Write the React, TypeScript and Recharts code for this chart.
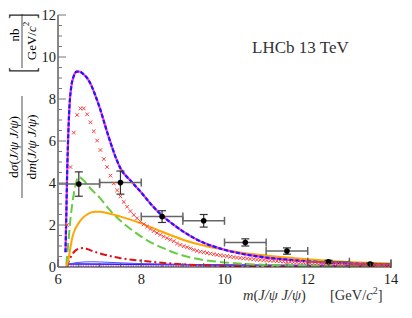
import {
  ComposedChart,
  Line,
  Area,
  Scatter,
  ErrorBar,
  XAxis,
  YAxis,
} from 'recharts';

// Axis ticks (every 0.5, labels on even values)
const xTicks = [6, 6.5, 7, 7.5, 8, 8.5, 9, 9.5, 10, 10.5, 11, 11.5, 12, 12.5, 13, 13.5, 14];
const yTicks = [0, 0.5, 1, 1.5, 2, 2.5, 3, 3.5, 4, 4.5, 5, 5.5, 6, 6.5, 7, 7.5, 8, 8.5, 9, 9.5, 10, 10.5, 11, 11.5, 12];

// Measured points (bin centres, values, errors)
const dataX = [6.5, 7.5, 8.5, 9.5, 10.5, 11.5, 12.5, 13.5];
const dataY = [3.95, 4.02, 2.4, 2.2, 1.17, 0.76, 0.25, 0.14];
const dataErrY = [0.58, 0.55, 0.28, 0.3, 0.17, 0.15, 0.07, 0.05];
const dataErrX = [0.5, 0.5, 0.5, 0.5, 0.5, 0.5, 0.5, 0.5];

// Total (blue dash-dot over magenta)
const totalX = [6.18, 6.2, 6.22, 6.25, 6.28, 6.32, 6.38, 6.45, 6.52, 6.6, 6.7, 6.8, 6.9, 7.0, 7.1, 7.2, 7.3, 7.4, 7.5, 7.75, 8.0, 8.25, 8.5, 8.75, 9.0, 9.25, 9.5, 9.75, 10, 10.5, 11, 11.5, 12, 12.5, 13, 13.5, 14];
const totalY = [0.7, 2.5, 4.5, 6.5, 7.8, 8.6, 9.1, 9.3, 9.3, 9.2, 9.0, 8.65, 8.15, 7.6, 6.95, 6.3, 5.7, 5.15, 4.7, 4.1, 3.55, 2.95, 2.45, 2.05, 1.7, 1.4, 1.15, 0.97, 0.82, 0.6, 0.45, 0.35, 0.27, 0.21, 0.17, 0.14, 0.12];

// Red crosses
const crossX = [6.22, 6.30, 6.38, 6.46, 6.54, 6.62, 6.70, 6.78, 6.86, 6.94, 7.02, 7.10, 7.18, 7.26, 7.34, 7.42, 7.50, 7.58, 7.66, 7.74, 7.82, 7.90, 7.98, 8.06, 8.14, 8.22, 8.30, 8.38, 8.46, 8.54, 8.62, 8.70, 8.78, 8.86, 8.94, 9.02, 9.10, 9.18, 9.26, 9.34, 9.42, 9.50, 9.58, 9.66, 9.74, 9.82, 9.90, 9.98, 10.06, 10.14, 10.22, 10.30, 10.38, 10.46, 10.54, 10.62, 10.70, 10.78, 10.86, 10.94, 11.02, 11.10, 11.18, 11.26, 11.34, 11.42, 11.50, 11.58, 11.66, 11.74, 11.82, 11.90, 11.98, 12.06, 12.14, 12.22, 12.30, 12.38, 12.46, 12.54, 12.62, 12.70, 12.78, 12.86, 12.94, 13.02, 13.10, 13.18, 13.26, 13.34, 13.42, 13.50, 13.58, 13.66, 13.74, 13.82, 13.90, 13.98];
const crossY = [2.0, 4.76, 6.4, 7.24, 7.55, 7.55, 7.27, 6.89, 6.46, 6.02, 5.57, 5.14, 4.76, 4.35, 3.98, 3.65, 3.36, 3.1, 2.87, 2.66, 2.48, 2.32, 2.17, 2.04, 1.92, 1.81, 1.71, 1.62, 1.53, 1.45, 1.37, 1.3, 1.23, 1.12, 1.05, 0.99, 0.94, 0.89, 0.82, 0.77, 0.73, 0.7, 0.67, 0.64, 0.61, 0.58, 0.56, 0.53, 0.51, 0.49, 0.47, 0.45, 0.43, 0.41, 0.4, 0.38, 0.37, 0.35, 0.34, 0.33, 0.31, 0.3, 0.29, 0.28, 0.27, 0.26, 0.25, 0.24, 0.23, 0.22, 0.21, 0.21, 0.2, 0.19, 0.18, 0.18, 0.17, 0.16, 0.16, 0.15, 0.15, 0.14, 0.14, 0.13, 0.13, 0.12, 0.12, 0.11, 0.11, 0.11, 0.1, 0.1, 0.1, 0.09, 0.09, 0.09, 0.08, 0.08];

// Green long dash
const greenX = [6.2, 6.25, 6.3, 6.35, 6.4, 6.5, 6.6, 6.8, 7.0, 7.25, 7.5, 7.75, 8.0, 8.25, 8.5, 9.0, 9.5, 10, 10.5, 11, 12, 13, 14];
const greenY = [0.1, 1.2, 2.3, 3.1, 3.7, 4.3, 4.15, 3.7, 3.3, 2.7, 2.2, 1.8, 1.45, 1.15, 0.92, 0.55, 0.33, 0.22, 0.15, 0.1, 0.05, 0.03, 0.02];

// Orange solid
const orangeX = [6.2, 6.25, 6.3, 6.35, 6.4, 6.5, 6.6, 6.7, 6.8, 6.9, 7.0, 7.2, 7.5, 8.0, 8.5, 9.0, 9.5, 10, 10.5, 11, 11.5, 12, 12.5, 13, 13.5, 14];
const orangeY = [0, 0.35, 0.95, 1.45, 1.75, 2.1, 2.35, 2.5, 2.6, 2.63, 2.63, 2.56, 2.4, 2.08, 1.68, 1.3, 1.02, 0.82, 0.66, 0.55, 0.45, 0.37, 0.3, 0.24, 0.2, 0.17];

// Red dash-dot
const redX = [6.2, 6.3, 6.4, 6.5, 6.6, 6.7, 6.8, 7.0, 7.25, 7.5, 8.0, 8.5, 9.0, 9.5, 10, 11, 12, 13, 14];
const redY = [0, 0.45, 0.75, 0.87, 0.9, 0.86, 0.78, 0.65, 0.52, 0.42, 0.3, 0.2, 0.13, 0.08, 0.05, 0.03, 0.02, 0.015, 0.01];

// Small blue components near zero
const blueLowX = [6.2, 6.3, 6.5, 6.8, 7.0, 7.5, 8, 9, 10, 12, 14];
const blueLowY = [0, 0.15, 0.22, 0.25, 0.24, 0.2, 0.16, 0.12, 0.09, 0.05, 0.03];
const baseX = [6.2, 6.25, 10, 14];
const baseY = [0, 0.14, 0.1, 0.06];
const hatchX = [6.2, 6.25, 8, 10.6];
const hatchY = [0, 0.15, 0.13, 0.11];

const zip = (xs: number[], ys: number[]) => xs.map((x, i) => ({ x, y: ys[i] }));

const points = dataX.map((x, i) => ({ x, y: dataY[i], ey: dataErrY[i], ex: dataErrX[i] }));

const FONT = '"Liberation Serif", "DejaVu Serif", serif';

const isMajor = (v: number) => Math.abs(v % 2) < 1e-6;

const BottomTick = (p: any) => {
  const v = Number(p.payload.value);
  const len = isMajor(v) ? 8 : 4;
  return (
    <g>
      <line x1={p.x} x2={p.x} y1={p.y} y2={p.y - len} stroke="#555" />
      {isMajor(v) && (
        <text x={p.x} y={p.y + 17} textAnchor="middle" fontSize={14.5} fontFamily={FONT} fill="#222">{v}</text>
      )}
    </g>
  );
};

const TopTick = (p: any) => {
  const v = Number(p.payload.value);
  const len = isMajor(v) ? 8 : 4;
  return <line x1={p.x} x2={p.x} y1={p.y} y2={p.y + len} stroke="#666" />;
};

const LeftTick = (p: any) => {
  const v = Number(p.payload.value);
  const len = isMajor(v) ? 8 : 4;
  return (
    <g>
      <line x1={p.x} x2={p.x + len} y1={p.y} y2={p.y} stroke="#777" />
      {isMajor(v) && (
        <text x={p.x - 2} y={p.y + 5} textAnchor="end" fontSize={14.5} fontFamily={FONT} fill="#222">{v}</text>
      )}
    </g>
  );
};

const RightTick = (p: any) => {
  const v = Number(p.payload.value);
  const len = isMajor(v) ? 8 : 4;
  return <line x1={p.x} x2={p.x - len} y1={p.y} y2={p.y} stroke="#777" />;
};

const CrossShape = (p: any) => {
  const { cx, cy } = p;
  const s = 1.8;
  return (
    <g stroke="#ff3b3b" strokeWidth={1}>
      <line x1={cx - s} y1={cy - s} x2={cx + s} y2={cy + s} />
      <line x1={cx - s} y1={cy + s} x2={cx + s} y2={cy - s} />
    </g>
  );
};

const DotShape = (p: any) => <circle cx={p.cx} cy={p.cy} r={2.8} fill="#000" />;

function Labels() {
  return (
    <svg width={412} height={318} style={{ position: 'absolute', left: 0, top: 0, pointerEvents: 'none' }} fontFamily={FONT}>
      {/* y label: fraction */}
      <g transform="translate(13,147) rotate(-90)">
        <text textAnchor="middle" dominantBaseline="central" fontSize={13.5}>
          d<tspan fontStyle="italic">σ</tspan>(<tspan fontStyle="italic">J/ψ J/ψ</tspan>)
        </text>
      </g>
      <line x1={22} x2={22} y1={96} y2={198} stroke="#222" strokeWidth={0.8} />
      <g transform="translate(31,147) rotate(-90)">
        <text textAnchor="middle" dominantBaseline="central" fontSize={13.5}>
          d<tspan fontStyle="italic">m</tspan>(<tspan fontStyle="italic">J/ψ J/ψ</tspan>)
        </text>
      </g>
      {/* y label: units */}
      <g transform="translate(14,35) rotate(-90)">
        <text textAnchor="middle" dominantBaseline="central" fontSize={13}>nb</text>
      </g>
      <line x1={22} x2={22} y1={14} y2={68} stroke="#222" strokeWidth={0.8} />
      <g transform="translate(31,41) rotate(-90)">
        <text textAnchor="middle" dominantBaseline="central" fontSize={13}>
          GeV/<tspan fontStyle="italic">c</tspan><tspan dy={-5} fontSize={9}>2</tspan>
        </text>
      </g>
      <g transform="translate(22,70) rotate(-90) scale(1,2.3)">
        <text textAnchor="middle" dominantBaseline="central" fontSize={16} fill="#333">[</text>
      </g>
      <g transform="translate(22,16) rotate(-90) scale(1,2.3)">
        <text textAnchor="middle" dominantBaseline="central" fontSize={16} fill="#333">]</text>
      </g>
      {/* x label */}
      <text x={243} y={300} fontSize={14.5} fill="#333">
        <tspan fontStyle="italic">m</tspan>(<tspan fontStyle="italic">J/ψ J/ψ</tspan>)
      </text>
      <text x={330} y={300} fontSize={14.5} fill="#333">
        [GeV/<tspan fontStyle="italic">c</tspan><tspan dy={-6} fontSize={10}>2</tspan><tspan dy={6}>]</tspan>
      </text>
      {/* experiment tag */}
      <text x={252} y={53} fontSize={17} fill="#333">LHCb 13 TeV</text>
    </svg>
  );
}

export default function App() {
  return (
    <div style={{ position: 'absolute', left: 0, top: 0, width: 412, height: 318, background: '#fff' }}>
      <svg width={0} height={0} style={{ position: 'absolute' }}>
        <defs>
          <pattern id="vhatch" width={2.5} height={4} patternUnits="userSpaceOnUse">
            <line x1={1} y1={0} x2={1} y2={4} stroke="#e040e0" strokeWidth={1} />
          </pattern>
        </defs>
      </svg>
      <ComposedChart width={412} height={318} margin={{ top: 15, right: 21, bottom: 0, left: 0 }}>
        <XAxis
          xAxisId="b"
          type="number"
          dataKey="x"
          domain={[6, 14]}
          ticks={xTicks}
          interval={0}
          allowDataOverflow
          height={51}
          tickSize={0}
          tickMargin={0}
          tickLine={false}
          axisLine={{ stroke: '#222' }}
          tick={<BottomTick />}
        />
        <XAxis
          xAxisId="t"
          orientation="top"
          type="number"
          dataKey="x"
          domain={[6, 14]}
          ticks={xTicks}
          interval={0}
          allowDataOverflow
          height={0}
          tickSize={0}
          tickMargin={0}
          tickLine={false}
          axisLine={{ stroke: '#222' }}
          tick={<TopTick />}
        />
        <YAxis
          yAxisId="l"
          type="number"
          domain={[0, 12]}
          ticks={yTicks}
          interval={0}
          allowDataOverflow
          width={58}
          tickSize={0}
          tickMargin={0}
          tickLine={false}
          axisLine={{ stroke: '#888', strokeWidth: 2 }}
          tick={<LeftTick />}
        />
        <YAxis
          yAxisId="r"
          orientation="right"
          type="number"
          domain={[0, 12]}
          ticks={yTicks}
          interval={0}
          allowDataOverflow
          width={0}
          tickSize={0}
          tickMargin={0}
          tickLine={false}
          axisLine={{ stroke: '#888', strokeWidth: 1.5 }}
          tick={<RightTick />}
        />

        <Area xAxisId="b" yAxisId="l" data={zip(hatchX, hatchY)} dataKey="y" type="linear" fill="url(#vhatch)" fillOpacity={1} stroke="none" isAnimationActive={false} />
        <Line xAxisId="b" yAxisId="l" data={zip(baseX, baseY)} dataKey="y" type="monotone" stroke="#2020ff" strokeWidth={1.5} dot={false} isAnimationActive={false} />
        <Line xAxisId="b" yAxisId="l" data={zip(blueLowX, blueLowY)} dataKey="y" type="monotone" stroke="#5050ff" strokeWidth={1} dot={false} isAnimationActive={false} />
        <Line xAxisId="b" yAxisId="l" data={zip(redX, redY)} dataKey="y" type="monotone" stroke="#e01010" strokeWidth={2} strokeDasharray="7 3 2 3" dot={false} isAnimationActive={false} />
        <Line xAxisId="b" yAxisId="l" data={zip(greenX, greenY)} dataKey="y" type="monotone" stroke="#66cc44" strokeWidth={2} strokeDasharray="9 4" dot={false} isAnimationActive={false} />
        <Line xAxisId="b" yAxisId="l" data={zip(orangeX, orangeY)} dataKey="y" type="monotone" stroke="#ffa500" strokeWidth={2} dot={false} isAnimationActive={false} />
        <Scatter xAxisId="b" yAxisId="l" data={zip(crossX, crossY)} dataKey="y" shape={<CrossShape />} isAnimationActive={false} />
        <Line xAxisId="b" yAxisId="l" data={zip(totalX, totalY)} dataKey="y" type="monotone" stroke="#ff33dd" strokeWidth={2.2} dot={false} isAnimationActive={false} />
        <Line xAxisId="b" yAxisId="l" data={zip(totalX, totalY)} dataKey="y" type="monotone" stroke="#1a1aff" strokeWidth={2.2} strokeDasharray="4 2" dot={false} isAnimationActive={false} />
        <Scatter xAxisId="b" yAxisId="l" data={points} dataKey="y" shape={<DotShape />} isAnimationActive={false}>
          <ErrorBar dataKey="ex" direction="x" width={4} stroke="#666" strokeWidth={1.5} />
          <ErrorBar dataKey="ey" direction="y" width={4} stroke="#333" strokeWidth={1.2} />
        </Scatter>
      </ComposedChart>
      <Labels />
    </div>
  );
}
